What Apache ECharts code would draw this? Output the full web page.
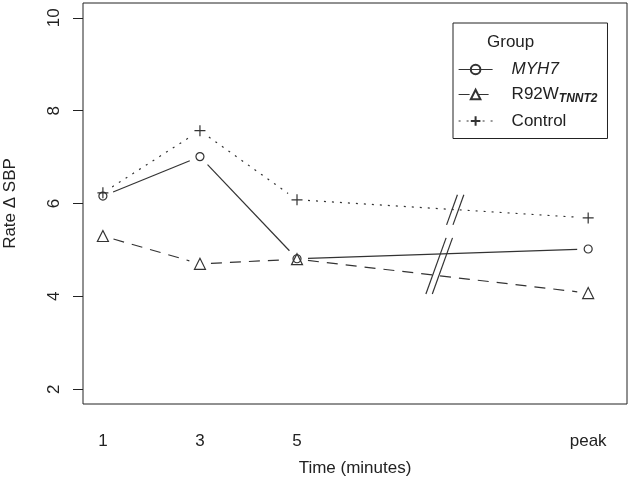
<!DOCTYPE html>
<html><head><meta charset="utf-8">
<script src="https://cdn.jsdelivr.net/npm/echarts@6/dist/echarts.min.js"></script>
<style>html,body{margin:0;padding:0;background:#fff}#c{width:630px;height:490px}</style>
</head><body><div id="c"></div>
<script>
// ---- data ----
const timePoints = [1, 3, 5, 11];
const xTickLabels = ['1', '3', '5', 'peak'];
const yTicks = [2, 4, 6, 8, 10];
const groupNames = ['MYH7', 'R92W', 'Control'];
const myh7 = [6.16, 7.01, 4.81, 5.02];
const r92w = [5.30, 4.70, 4.80, 4.07];
const control = [6.23, 7.57, 6.08, 5.69];
const breakX = [8.26, 7.93];
const breakYLow = [5.54, 4.05];
const breakYHigh = [6.19, 5.26];

// ---- styles ----
const FONT = "'Liberation Sans', Arial, sans-serif";
const INK = '#222';
const LINE = '#333';
const styles = {
  MYH7:    { symbol: 'circle', size: 8, dash: 'solid' },
  R92W:    { symbol: 'triangle', size: 11, dash: [11, 8] },
  Control: { symbol: 'path://M0,5L10,5M5,0L5,10', size: 11, dash: [2, 6] }
};
const values = { MYH7: myh7, R92W: r92w, Control: control };

const GAP = 11;
function segRender(dash) {
  return function (params, api) {
    const p1 = api.coord([api.value(0), api.value(1)]);
    const p2 = api.coord([api.value(2), api.value(3)]);
    const dx = p2[0] - p1[0], dy = p2[1] - p1[1];
    const L = Math.hypot(dx, dy);
    const ux = dx / L, uy = dy / L;
    return {
      type: 'line',
      shape: { x1: p1[0] + ux * GAP, y1: p1[1] + uy * GAP, x2: p2[0] - ux * GAP, y2: p2[1] - uy * GAP },
      style: { stroke: LINE, lineWidth: 1.2, lineDash: dash === 'solid' ? null : dash, fill: null }
    };
  };
}

const series = [];
groupNames.forEach(function (name) {
  const v = values[name];
  const st = styles[name];
  const segs = [];
  for (let i = 0; i < v.length - 1; i++) segs.push([timePoints[i], v[i], timePoints[i + 1], v[i + 1]]);
  series.push({
    name: name + '-seg', type: 'custom', renderItem: segRender(st.dash),
    encode: { x: [0, 2], y: [1, 3] }, data: segs, silent: true, z: 2
  });
  series.push({
    name: name, type: 'line', data: timePoints.map((t, i) => [t, v[i]]),
    symbol: st.symbol, symbolSize: st.size, showSymbol: true,
    itemStyle: { color: 'transparent', borderColor: LINE, borderWidth: 1.2 },
    lineStyle: { color: LINE, width: 1.2, type: st.dash, opacity: 0 },
    emphasis: { disabled: true }, z: 3, animation: false
  });
});

series.push({
  name: 'breaks', type: 'custom', silent: true, z: 4,
  data: breakX.map((x, i) => [x, breakYLow[i], breakYHigh[i]]),
  encode: { x: 0, y: [1, 2] },
  renderItem: function (params, api) {
    const pl = api.coord([api.value(0), api.value(1)]);
    const ph = api.coord([api.value(0), api.value(2)]);
    const h = pl[1] - ph[1];
    const s = 0.18 * h;
    const kids = [-3.2, 3.2].map(function (off) {
      return { type: 'line', shape: { x1: pl[0] - s + off, y1: pl[1], x2: pl[0] + s + off, y2: ph[1] },
        style: { stroke: LINE, lineWidth: 1.2 } };
    });
    return { type: 'group', children: kids };
  }
});

const chart = echarts.init(document.getElementById('c'), null, { renderer: 'canvas' });
chart.setOption({
  animation: false,
  backgroundColor: '#fff',
  grid: { left: 83, right: 3, top: 3, bottom: 86, outerBoundsMode: 'none', containLabel: false,
    show: true, borderColor: INK, borderWidth: 1, backgroundColor: 'transparent' },
  xAxis: {
    type: 'value', min: 0.59, max: 11.8,
    axisLine: { show: false }, axisTick: { show: false }, splitLine: { show: false },
    axisLabel: {
      customValues: timePoints, margin: 29, fontSize: 17, fontFamily: FONT, color: INK,
      formatter: function (v) { const i = timePoints.indexOf(v); return i >= 0 ? xTickLabels[i] : ''; }
    },
    name: 'Time (minutes)', nameLocation: 'middle', nameGap: 56,
    nameTextStyle: { fontSize: 17, fontFamily: FONT, color: INK }
  },
  yAxis: {
    type: 'value', min: 1.68, max: 10.32,
    axisLine: { show: false }, splitLine: { show: false },
    axisTick: { show: true, customValues: yTicks, length: 10, lineStyle: { color: INK, width: 1 } },
    axisLabel: { customValues: yTicks, rotate: 90, margin: 20, fontSize: 17, fontFamily: FONT, color: INK },
    name: 'Rate \u0394 SBP', nameLocation: 'middle', nameGap: 64,
    nameTextStyle: { fontSize: 17, fontFamily: FONT, color: INK }
  },
  legend: {
    data: groupNames, orient: 'vertical', left: 453, top: 23,
    padding: [38, 10, 9, 5], borderColor: INK, borderWidth: 1,
    itemWidth: 34, itemHeight: 12, itemGap: 8, selectedMode: false,
    lineStyle: { color: LINE, width: 1.2, opacity: 1 },
    textStyle: {
      fontSize: 17, fontFamily: FONT, color: INK, padding: [0, 0, 0, 14],
      rich: {
        it: { fontSize: 17, fontFamily: FONT, fontStyle: 'italic', color: INK },
        sub: { fontSize: 12, fontFamily: FONT, fontStyle: 'italic', fontWeight: 'bold', color: INK, verticalAlign: 'bottom', padding: [8, 0, 0, 0] }
      }
    },
    formatter: function (name) {
      if (name === 'MYH7') return '{it|MYH7}';
      if (name === 'R92W') return 'R92W{sub|TNNT2}';
      return name;
    }
  },
  graphic: [{ type: 'text', left: 487, top: 34, style: { text: 'Group', font: '17px ' + FONT, fill: INK } }],
  series: series
});
</script></body></html>
